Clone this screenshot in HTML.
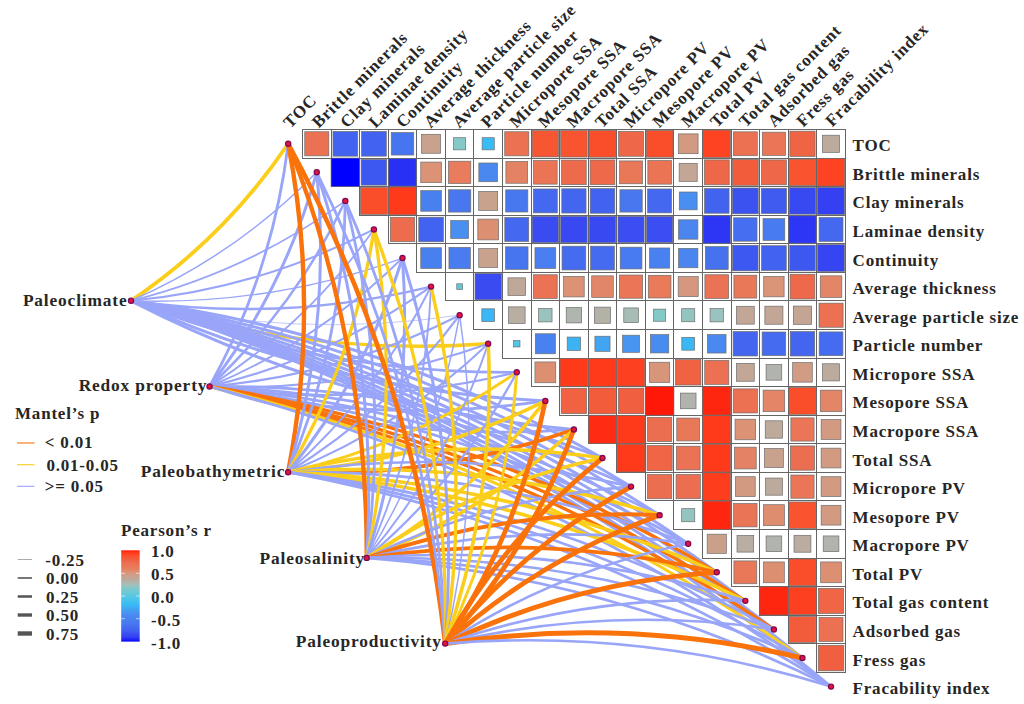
<!DOCTYPE html>
<html><head><meta charset="utf-8"><title>Mantel test</title>
<style>html,body{margin:0;padding:0;background:#fff}svg{display:block}</style></head>
<body>
<svg width="1024" height="704" viewBox="0 0 1024 704">
<rect width="1024" height="704" fill="#fff"/>
<g stroke="#666" stroke-width="1" fill="#fff" shape-rendering="crispEdges">
<rect x="302.50" y="129.50" width="28.57" height="28.57"/>
<rect x="331.07" y="129.50" width="28.57" height="28.57"/>
<rect x="359.64" y="129.50" width="28.57" height="28.57"/>
<rect x="388.21" y="129.50" width="28.57" height="28.57"/>
<rect x="416.78" y="129.50" width="28.57" height="28.57"/>
<rect x="445.35" y="129.50" width="28.57" height="28.57"/>
<rect x="473.92" y="129.50" width="28.57" height="28.57"/>
<rect x="502.49" y="129.50" width="28.57" height="28.57"/>
<rect x="531.06" y="129.50" width="28.57" height="28.57"/>
<rect x="559.63" y="129.50" width="28.57" height="28.57"/>
<rect x="588.20" y="129.50" width="28.57" height="28.57"/>
<rect x="616.77" y="129.50" width="28.57" height="28.57"/>
<rect x="645.34" y="129.50" width="28.57" height="28.57"/>
<rect x="673.91" y="129.50" width="28.57" height="28.57"/>
<rect x="702.48" y="129.50" width="28.57" height="28.57"/>
<rect x="731.05" y="129.50" width="28.57" height="28.57"/>
<rect x="759.62" y="129.50" width="28.57" height="28.57"/>
<rect x="788.19" y="129.50" width="28.57" height="28.57"/>
<rect x="816.76" y="129.50" width="28.57" height="28.57"/>
<rect x="331.07" y="158.07" width="28.57" height="28.57"/>
<rect x="359.64" y="158.07" width="28.57" height="28.57"/>
<rect x="388.21" y="158.07" width="28.57" height="28.57"/>
<rect x="416.78" y="158.07" width="28.57" height="28.57"/>
<rect x="445.35" y="158.07" width="28.57" height="28.57"/>
<rect x="473.92" y="158.07" width="28.57" height="28.57"/>
<rect x="502.49" y="158.07" width="28.57" height="28.57"/>
<rect x="531.06" y="158.07" width="28.57" height="28.57"/>
<rect x="559.63" y="158.07" width="28.57" height="28.57"/>
<rect x="588.20" y="158.07" width="28.57" height="28.57"/>
<rect x="616.77" y="158.07" width="28.57" height="28.57"/>
<rect x="645.34" y="158.07" width="28.57" height="28.57"/>
<rect x="673.91" y="158.07" width="28.57" height="28.57"/>
<rect x="702.48" y="158.07" width="28.57" height="28.57"/>
<rect x="731.05" y="158.07" width="28.57" height="28.57"/>
<rect x="759.62" y="158.07" width="28.57" height="28.57"/>
<rect x="788.19" y="158.07" width="28.57" height="28.57"/>
<rect x="816.76" y="158.07" width="28.57" height="28.57"/>
<rect x="359.64" y="186.64" width="28.57" height="28.57"/>
<rect x="388.21" y="186.64" width="28.57" height="28.57"/>
<rect x="416.78" y="186.64" width="28.57" height="28.57"/>
<rect x="445.35" y="186.64" width="28.57" height="28.57"/>
<rect x="473.92" y="186.64" width="28.57" height="28.57"/>
<rect x="502.49" y="186.64" width="28.57" height="28.57"/>
<rect x="531.06" y="186.64" width="28.57" height="28.57"/>
<rect x="559.63" y="186.64" width="28.57" height="28.57"/>
<rect x="588.20" y="186.64" width="28.57" height="28.57"/>
<rect x="616.77" y="186.64" width="28.57" height="28.57"/>
<rect x="645.34" y="186.64" width="28.57" height="28.57"/>
<rect x="673.91" y="186.64" width="28.57" height="28.57"/>
<rect x="702.48" y="186.64" width="28.57" height="28.57"/>
<rect x="731.05" y="186.64" width="28.57" height="28.57"/>
<rect x="759.62" y="186.64" width="28.57" height="28.57"/>
<rect x="788.19" y="186.64" width="28.57" height="28.57"/>
<rect x="816.76" y="186.64" width="28.57" height="28.57"/>
<rect x="388.21" y="215.21" width="28.57" height="28.57"/>
<rect x="416.78" y="215.21" width="28.57" height="28.57"/>
<rect x="445.35" y="215.21" width="28.57" height="28.57"/>
<rect x="473.92" y="215.21" width="28.57" height="28.57"/>
<rect x="502.49" y="215.21" width="28.57" height="28.57"/>
<rect x="531.06" y="215.21" width="28.57" height="28.57"/>
<rect x="559.63" y="215.21" width="28.57" height="28.57"/>
<rect x="588.20" y="215.21" width="28.57" height="28.57"/>
<rect x="616.77" y="215.21" width="28.57" height="28.57"/>
<rect x="645.34" y="215.21" width="28.57" height="28.57"/>
<rect x="673.91" y="215.21" width="28.57" height="28.57"/>
<rect x="702.48" y="215.21" width="28.57" height="28.57"/>
<rect x="731.05" y="215.21" width="28.57" height="28.57"/>
<rect x="759.62" y="215.21" width="28.57" height="28.57"/>
<rect x="788.19" y="215.21" width="28.57" height="28.57"/>
<rect x="816.76" y="215.21" width="28.57" height="28.57"/>
<rect x="416.78" y="243.78" width="28.57" height="28.57"/>
<rect x="445.35" y="243.78" width="28.57" height="28.57"/>
<rect x="473.92" y="243.78" width="28.57" height="28.57"/>
<rect x="502.49" y="243.78" width="28.57" height="28.57"/>
<rect x="531.06" y="243.78" width="28.57" height="28.57"/>
<rect x="559.63" y="243.78" width="28.57" height="28.57"/>
<rect x="588.20" y="243.78" width="28.57" height="28.57"/>
<rect x="616.77" y="243.78" width="28.57" height="28.57"/>
<rect x="645.34" y="243.78" width="28.57" height="28.57"/>
<rect x="673.91" y="243.78" width="28.57" height="28.57"/>
<rect x="702.48" y="243.78" width="28.57" height="28.57"/>
<rect x="731.05" y="243.78" width="28.57" height="28.57"/>
<rect x="759.62" y="243.78" width="28.57" height="28.57"/>
<rect x="788.19" y="243.78" width="28.57" height="28.57"/>
<rect x="816.76" y="243.78" width="28.57" height="28.57"/>
<rect x="445.35" y="272.35" width="28.57" height="28.57"/>
<rect x="473.92" y="272.35" width="28.57" height="28.57"/>
<rect x="502.49" y="272.35" width="28.57" height="28.57"/>
<rect x="531.06" y="272.35" width="28.57" height="28.57"/>
<rect x="559.63" y="272.35" width="28.57" height="28.57"/>
<rect x="588.20" y="272.35" width="28.57" height="28.57"/>
<rect x="616.77" y="272.35" width="28.57" height="28.57"/>
<rect x="645.34" y="272.35" width="28.57" height="28.57"/>
<rect x="673.91" y="272.35" width="28.57" height="28.57"/>
<rect x="702.48" y="272.35" width="28.57" height="28.57"/>
<rect x="731.05" y="272.35" width="28.57" height="28.57"/>
<rect x="759.62" y="272.35" width="28.57" height="28.57"/>
<rect x="788.19" y="272.35" width="28.57" height="28.57"/>
<rect x="816.76" y="272.35" width="28.57" height="28.57"/>
<rect x="473.92" y="300.92" width="28.57" height="28.57"/>
<rect x="502.49" y="300.92" width="28.57" height="28.57"/>
<rect x="531.06" y="300.92" width="28.57" height="28.57"/>
<rect x="559.63" y="300.92" width="28.57" height="28.57"/>
<rect x="588.20" y="300.92" width="28.57" height="28.57"/>
<rect x="616.77" y="300.92" width="28.57" height="28.57"/>
<rect x="645.34" y="300.92" width="28.57" height="28.57"/>
<rect x="673.91" y="300.92" width="28.57" height="28.57"/>
<rect x="702.48" y="300.92" width="28.57" height="28.57"/>
<rect x="731.05" y="300.92" width="28.57" height="28.57"/>
<rect x="759.62" y="300.92" width="28.57" height="28.57"/>
<rect x="788.19" y="300.92" width="28.57" height="28.57"/>
<rect x="816.76" y="300.92" width="28.57" height="28.57"/>
<rect x="502.49" y="329.49" width="28.57" height="28.57"/>
<rect x="531.06" y="329.49" width="28.57" height="28.57"/>
<rect x="559.63" y="329.49" width="28.57" height="28.57"/>
<rect x="588.20" y="329.49" width="28.57" height="28.57"/>
<rect x="616.77" y="329.49" width="28.57" height="28.57"/>
<rect x="645.34" y="329.49" width="28.57" height="28.57"/>
<rect x="673.91" y="329.49" width="28.57" height="28.57"/>
<rect x="702.48" y="329.49" width="28.57" height="28.57"/>
<rect x="731.05" y="329.49" width="28.57" height="28.57"/>
<rect x="759.62" y="329.49" width="28.57" height="28.57"/>
<rect x="788.19" y="329.49" width="28.57" height="28.57"/>
<rect x="816.76" y="329.49" width="28.57" height="28.57"/>
<rect x="531.06" y="358.06" width="28.57" height="28.57"/>
<rect x="559.63" y="358.06" width="28.57" height="28.57"/>
<rect x="588.20" y="358.06" width="28.57" height="28.57"/>
<rect x="616.77" y="358.06" width="28.57" height="28.57"/>
<rect x="645.34" y="358.06" width="28.57" height="28.57"/>
<rect x="673.91" y="358.06" width="28.57" height="28.57"/>
<rect x="702.48" y="358.06" width="28.57" height="28.57"/>
<rect x="731.05" y="358.06" width="28.57" height="28.57"/>
<rect x="759.62" y="358.06" width="28.57" height="28.57"/>
<rect x="788.19" y="358.06" width="28.57" height="28.57"/>
<rect x="816.76" y="358.06" width="28.57" height="28.57"/>
<rect x="559.63" y="386.63" width="28.57" height="28.57"/>
<rect x="588.20" y="386.63" width="28.57" height="28.57"/>
<rect x="616.77" y="386.63" width="28.57" height="28.57"/>
<rect x="645.34" y="386.63" width="28.57" height="28.57"/>
<rect x="673.91" y="386.63" width="28.57" height="28.57"/>
<rect x="702.48" y="386.63" width="28.57" height="28.57"/>
<rect x="731.05" y="386.63" width="28.57" height="28.57"/>
<rect x="759.62" y="386.63" width="28.57" height="28.57"/>
<rect x="788.19" y="386.63" width="28.57" height="28.57"/>
<rect x="816.76" y="386.63" width="28.57" height="28.57"/>
<rect x="588.20" y="415.20" width="28.57" height="28.57"/>
<rect x="616.77" y="415.20" width="28.57" height="28.57"/>
<rect x="645.34" y="415.20" width="28.57" height="28.57"/>
<rect x="673.91" y="415.20" width="28.57" height="28.57"/>
<rect x="702.48" y="415.20" width="28.57" height="28.57"/>
<rect x="731.05" y="415.20" width="28.57" height="28.57"/>
<rect x="759.62" y="415.20" width="28.57" height="28.57"/>
<rect x="788.19" y="415.20" width="28.57" height="28.57"/>
<rect x="816.76" y="415.20" width="28.57" height="28.57"/>
<rect x="616.77" y="443.77" width="28.57" height="28.57"/>
<rect x="645.34" y="443.77" width="28.57" height="28.57"/>
<rect x="673.91" y="443.77" width="28.57" height="28.57"/>
<rect x="702.48" y="443.77" width="28.57" height="28.57"/>
<rect x="731.05" y="443.77" width="28.57" height="28.57"/>
<rect x="759.62" y="443.77" width="28.57" height="28.57"/>
<rect x="788.19" y="443.77" width="28.57" height="28.57"/>
<rect x="816.76" y="443.77" width="28.57" height="28.57"/>
<rect x="645.34" y="472.34" width="28.57" height="28.57"/>
<rect x="673.91" y="472.34" width="28.57" height="28.57"/>
<rect x="702.48" y="472.34" width="28.57" height="28.57"/>
<rect x="731.05" y="472.34" width="28.57" height="28.57"/>
<rect x="759.62" y="472.34" width="28.57" height="28.57"/>
<rect x="788.19" y="472.34" width="28.57" height="28.57"/>
<rect x="816.76" y="472.34" width="28.57" height="28.57"/>
<rect x="673.91" y="500.91" width="28.57" height="28.57"/>
<rect x="702.48" y="500.91" width="28.57" height="28.57"/>
<rect x="731.05" y="500.91" width="28.57" height="28.57"/>
<rect x="759.62" y="500.91" width="28.57" height="28.57"/>
<rect x="788.19" y="500.91" width="28.57" height="28.57"/>
<rect x="816.76" y="500.91" width="28.57" height="28.57"/>
<rect x="702.48" y="529.48" width="28.57" height="28.57"/>
<rect x="731.05" y="529.48" width="28.57" height="28.57"/>
<rect x="759.62" y="529.48" width="28.57" height="28.57"/>
<rect x="788.19" y="529.48" width="28.57" height="28.57"/>
<rect x="816.76" y="529.48" width="28.57" height="28.57"/>
<rect x="731.05" y="558.05" width="28.57" height="28.57"/>
<rect x="759.62" y="558.05" width="28.57" height="28.57"/>
<rect x="788.19" y="558.05" width="28.57" height="28.57"/>
<rect x="816.76" y="558.05" width="28.57" height="28.57"/>
<rect x="759.62" y="586.62" width="28.57" height="28.57"/>
<rect x="788.19" y="586.62" width="28.57" height="28.57"/>
<rect x="816.76" y="586.62" width="28.57" height="28.57"/>
<rect x="788.19" y="615.19" width="28.57" height="28.57"/>
<rect x="816.76" y="615.19" width="28.57" height="28.57"/>
<rect x="816.76" y="643.76" width="28.57" height="28.57"/>
</g>
<g stroke="#6e6e6e" stroke-width="0.7">
<rect x="304.75" y="131.75" width="24.07" height="24.07" fill="#ec7052"/>
<rect x="332.98" y="131.41" width="24.74" height="24.74" fill="#4262f0"/>
<rect x="361.55" y="131.41" width="24.74" height="24.74" fill="#4262f0"/>
<rect x="391.25" y="132.54" width="22.50" height="22.50" fill="#4775f0"/>
<rect x="421.59" y="134.31" width="18.95" height="18.95" fill="#c9a28e"/>
<rect x="453.57" y="137.72" width="12.12" height="12.12" fill="#84c8c8"/>
<rect x="482.14" y="137.72" width="12.12" height="12.12" fill="#38bcf5"/>
<rect x="504.74" y="131.75" width="24.07" height="24.07" fill="#ec7052"/>
<rect x="532.17" y="130.61" width="26.34" height="26.34" fill="#f75633"/>
<rect x="560.67" y="130.54" width="26.49" height="26.49" fill="#f85430"/>
<rect x="589.08" y="130.38" width="26.80" height="26.80" fill="#fa4e2b"/>
<rect x="618.60" y="131.33" width="24.91" height="24.91" fill="#ee6748"/>
<rect x="646.22" y="130.38" width="26.80" height="26.80" fill="#fa4e2b"/>
<rect x="678.30" y="133.89" width="19.79" height="19.79" fill="#d29a81"/>
<rect x="703.06" y="130.08" width="27.40" height="27.40" fill="#fd4321"/>
<rect x="733.38" y="131.83" width="23.90" height="23.90" fill="#ec7153"/>
<rect x="762.30" y="132.18" width="23.21" height="23.21" fill="#ea7657"/>
<rect x="789.86" y="131.17" width="25.23" height="25.23" fill="#ef6444"/>
<rect x="822.47" y="135.21" width="17.14" height="17.14" fill="#bcab9d"/>
<rect x="331.07" y="158.07" width="28.57" height="28.57" fill="#0000ff"/>
<rect x="361.15" y="159.58" width="25.55" height="25.55" fill="#3d57f1"/>
<rect x="388.72" y="158.58" width="27.55" height="27.55" fill="#2930f6"/>
<rect x="420.76" y="162.05" width="20.60" height="20.60" fill="#dc9274"/>
<rect x="448.48" y="161.20" width="22.31" height="22.31" fill="#e87c5c"/>
<rect x="478.84" y="162.99" width="18.73" height="18.73" fill="#4a88f0"/>
<rect x="505.90" y="161.48" width="21.76" height="21.76" fill="#e48364"/>
<rect x="533.57" y="160.58" width="23.56" height="23.56" fill="#eb7455"/>
<rect x="561.63" y="160.07" width="24.58" height="24.58" fill="#ed6b4c"/>
<rect x="590.11" y="159.98" width="24.74" height="24.74" fill="#ee694a"/>
<rect x="619.63" y="160.93" width="22.86" height="22.86" fill="#e97859"/>
<rect x="647.85" y="160.58" width="23.56" height="23.56" fill="#eb7455"/>
<rect x="679.16" y="163.32" width="18.07" height="18.07" fill="#c3a695"/>
<rect x="704.31" y="159.90" width="24.91" height="24.91" fill="#ee6748"/>
<rect x="732.40" y="159.42" width="25.87" height="25.87" fill="#f35c3b"/>
<rect x="761.45" y="159.90" width="24.91" height="24.91" fill="#ee6748"/>
<rect x="789.23" y="159.11" width="26.49" height="26.49" fill="#f85430"/>
<rect x="817.34" y="158.65" width="27.40" height="27.40" fill="#fd4321"/>
<rect x="360.52" y="187.52" width="26.80" height="26.80" fill="#fa4e2b"/>
<rect x="388.57" y="187.00" width="27.85" height="27.85" fill="#ff3a1a"/>
<rect x="420.76" y="190.62" width="20.60" height="20.60" fill="#4980f0"/>
<rect x="448.48" y="189.77" width="22.31" height="22.31" fill="#4877f0"/>
<rect x="478.73" y="191.45" width="18.95" height="18.95" fill="#c9a28e"/>
<rect x="505.71" y="189.86" width="22.13" height="22.13" fill="#4878f0"/>
<rect x="533.39" y="188.97" width="23.90" height="23.90" fill="#4469f0"/>
<rect x="561.79" y="188.80" width="24.24" height="24.24" fill="#4366f0"/>
<rect x="590.20" y="188.64" width="24.58" height="24.58" fill="#4263f0"/>
<rect x="619.90" y="189.77" width="22.31" height="22.31" fill="#4877f0"/>
<rect x="647.67" y="188.97" width="23.90" height="23.90" fill="#4469f0"/>
<rect x="679.27" y="192.00" width="17.84" height="17.84" fill="#488ff1"/>
<rect x="704.48" y="188.64" width="24.58" height="24.58" fill="#4263f0"/>
<rect x="732.40" y="187.99" width="25.87" height="25.87" fill="#3b52f1"/>
<rect x="761.29" y="188.31" width="25.23" height="25.23" fill="#3f5bf0"/>
<rect x="789.23" y="187.68" width="26.49" height="26.49" fill="#3849f1"/>
<rect x="817.49" y="187.37" width="27.10" height="27.10" fill="#3440f2"/>
<rect x="390.29" y="217.29" width="24.41" height="24.41" fill="#ed6c4e"/>
<rect x="418.78" y="217.21" width="24.58" height="24.58" fill="#4263f0"/>
<rect x="450.71" y="220.57" width="17.84" height="17.84" fill="#488ff1"/>
<rect x="477.81" y="219.10" width="20.80" height="20.80" fill="#dd9071"/>
<rect x="504.82" y="217.54" width="23.90" height="23.90" fill="#4469f0"/>
<rect x="532.17" y="216.32" width="26.34" height="26.34" fill="#394bf1"/>
<rect x="560.67" y="216.25" width="26.49" height="26.49" fill="#3849f1"/>
<rect x="589.24" y="216.25" width="26.49" height="26.49" fill="#3849f1"/>
<rect x="617.96" y="216.40" width="26.18" height="26.18" fill="#3a4ef1"/>
<rect x="646.53" y="216.40" width="26.18" height="26.18" fill="#3a4ef1"/>
<rect x="678.51" y="219.81" width="19.38" height="19.38" fill="#4a85f0"/>
<rect x="703.06" y="215.79" width="27.40" height="27.40" fill="#2d36f4"/>
<rect x="733.64" y="217.80" width="23.39" height="23.39" fill="#456ef0"/>
<rect x="763.03" y="218.62" width="21.76" height="21.76" fill="#487af0"/>
<rect x="788.77" y="215.79" width="27.40" height="27.40" fill="#2d36f4"/>
<rect x="819.09" y="217.54" width="23.90" height="23.90" fill="#4469f0"/>
<rect x="420.76" y="247.76" width="20.60" height="20.60" fill="#4980f0"/>
<rect x="448.95" y="247.38" width="21.38" height="21.38" fill="#487cf0"/>
<rect x="478.73" y="248.59" width="18.95" height="18.95" fill="#c9a28e"/>
<rect x="505.53" y="246.82" width="22.50" height="22.50" fill="#4775f0"/>
<rect x="534.95" y="247.67" width="20.80" height="20.80" fill="#497ff0"/>
<rect x="562.05" y="246.20" width="23.73" height="23.73" fill="#446bf0"/>
<rect x="590.62" y="246.20" width="23.73" height="23.73" fill="#446bf0"/>
<rect x="620.18" y="247.19" width="21.76" height="21.76" fill="#487af0"/>
<rect x="649.52" y="247.96" width="20.20" height="20.20" fill="#4981f0"/>
<rect x="678.51" y="248.38" width="19.38" height="19.38" fill="#4a85f0"/>
<rect x="705.34" y="246.64" width="22.86" height="22.86" fill="#4672f0"/>
<rect x="732.56" y="245.29" width="25.55" height="25.55" fill="#3d57f1"/>
<rect x="761.53" y="245.69" width="24.74" height="24.74" fill="#4262f0"/>
<rect x="789.70" y="245.29" width="25.55" height="25.55" fill="#3d57f1"/>
<rect x="817.64" y="244.66" width="26.80" height="26.80" fill="#3645f2"/>
<rect x="456.78" y="283.78" width="5.71" height="5.71" fill="#62c8dc"/>
<rect x="475.03" y="273.46" width="26.34" height="26.34" fill="#394bf1"/>
<rect x="507.97" y="277.83" width="17.61" height="17.61" fill="#c0a898"/>
<rect x="533.48" y="274.77" width="23.73" height="23.73" fill="#eb7254"/>
<rect x="563.61" y="276.33" width="20.60" height="20.60" fill="#dc9274"/>
<rect x="591.70" y="275.85" width="21.57" height="21.57" fill="#e38667"/>
<rect x="619.45" y="275.03" width="23.21" height="23.21" fill="#ea7657"/>
<rect x="648.29" y="275.30" width="22.68" height="22.68" fill="#e97a5a"/>
<rect x="678.20" y="276.64" width="20.00" height="20.00" fill="#d5987e"/>
<rect x="704.90" y="274.77" width="23.73" height="23.73" fill="#eb7254"/>
<rect x="733.91" y="275.21" width="22.86" height="22.86" fill="#e97859"/>
<rect x="763.70" y="276.43" width="20.40" height="20.40" fill="#da9477"/>
<rect x="790.10" y="274.26" width="24.74" height="24.74" fill="#ee694a"/>
<rect x="820.26" y="275.85" width="21.57" height="21.57" fill="#e38667"/>
<rect x="481.82" y="308.82" width="12.78" height="12.78" fill="#3ab7f4"/>
<rect x="508.45" y="306.88" width="16.66" height="16.66" fill="#b8aea2"/>
<rect x="538.64" y="308.50" width="13.40" height="13.40" fill="#9ac2be"/>
<rect x="566.22" y="307.51" width="15.39" height="15.39" fill="#aeb6ae"/>
<rect x="594.40" y="307.12" width="16.16" height="16.16" fill="#b4b1a7"/>
<rect x="623.77" y="307.92" width="14.57" height="14.57" fill="#a8bcb6"/>
<rect x="653.56" y="309.14" width="12.12" height="12.12" fill="#84c8c8"/>
<rect x="681.65" y="308.66" width="13.09" height="13.09" fill="#94c4c0"/>
<rect x="710.06" y="308.50" width="13.40" height="13.40" fill="#9ac2be"/>
<rect x="736.41" y="306.28" width="17.84" height="17.84" fill="#c2a796"/>
<rect x="764.87" y="306.17" width="18.07" height="18.07" fill="#c3a695"/>
<rect x="793.33" y="306.06" width="18.29" height="18.29" fill="#c4a593"/>
<rect x="819.01" y="303.17" width="24.07" height="24.07" fill="#ec7052"/>
<rect x="513.58" y="340.58" width="6.39" height="6.39" fill="#4fc5e7"/>
<rect x="535.35" y="333.78" width="20.00" height="20.00" fill="#4982f0"/>
<rect x="567.21" y="337.07" width="13.40" height="13.40" fill="#3cb3f4"/>
<rect x="594.93" y="336.22" width="15.12" height="15.12" fill="#42a5f2"/>
<rect x="622.48" y="335.20" width="17.14" height="17.14" fill="#4795f1"/>
<rect x="650.48" y="334.63" width="18.29" height="18.29" fill="#498cf0"/>
<rect x="681.81" y="337.39" width="12.78" height="12.78" fill="#3ab7f4"/>
<rect x="707.51" y="334.52" width="18.52" height="18.52" fill="#4a8af0"/>
<rect x="733.13" y="331.57" width="24.41" height="24.41" fill="#4365f0"/>
<rect x="762.13" y="332.00" width="23.56" height="23.56" fill="#456cf0"/>
<rect x="790.27" y="331.57" width="24.41" height="24.41" fill="#4365f0"/>
<rect x="819.18" y="331.91" width="23.73" height="23.73" fill="#446bf0"/>
<rect x="534.95" y="361.95" width="20.80" height="20.80" fill="#dd9071"/>
<rect x="559.99" y="358.42" width="27.85" height="27.85" fill="#ff3a1a"/>
<rect x="588.56" y="358.42" width="27.85" height="27.85" fill="#ff3a1a"/>
<rect x="617.28" y="358.57" width="27.55" height="27.55" fill="#fd401f"/>
<rect x="649.52" y="362.24" width="20.20" height="20.20" fill="#d7967a"/>
<rect x="675.50" y="359.65" width="25.39" height="25.39" fill="#f06242"/>
<rect x="704.73" y="360.31" width="24.07" height="24.07" fill="#ec7052"/>
<rect x="736.41" y="363.42" width="17.84" height="17.84" fill="#c2a796"/>
<rect x="766.08" y="364.52" width="15.65" height="15.65" fill="#b0b4ac"/>
<rect x="792.68" y="362.55" width="19.59" height="19.59" fill="#d09c84"/>
<rect x="822.47" y="363.77" width="17.14" height="17.14" fill="#bcab9d"/>
<rect x="561.22" y="388.22" width="25.39" height="25.39" fill="#f06242"/>
<rect x="589.55" y="387.98" width="25.87" height="25.87" fill="#f35c3b"/>
<rect x="618.28" y="388.14" width="25.55" height="25.55" fill="#f06040"/>
<rect x="645.34" y="386.63" width="28.57" height="28.57" fill="#ff1808"/>
<rect x="680.37" y="393.09" width="15.65" height="15.65" fill="#b0b4ac"/>
<rect x="702.62" y="386.77" width="28.28" height="28.28" fill="#ff260f"/>
<rect x="733.30" y="388.88" width="24.07" height="24.07" fill="#ec7052"/>
<rect x="763.12" y="390.13" width="21.57" height="21.57" fill="#e38667"/>
<rect x="789.07" y="387.51" width="26.80" height="26.80" fill="#fa4e2b"/>
<rect x="820.26" y="390.13" width="21.57" height="21.57" fill="#e38667"/>
<rect x="588.42" y="415.42" width="28.14" height="28.14" fill="#ff2c13"/>
<rect x="617.13" y="415.56" width="27.85" height="27.85" fill="#ff3a1a"/>
<rect x="647.50" y="417.36" width="24.24" height="24.24" fill="#ec6e50"/>
<rect x="676.77" y="418.06" width="22.86" height="22.86" fill="#e97859"/>
<rect x="702.84" y="415.56" width="27.85" height="27.85" fill="#ff3a1a"/>
<rect x="735.03" y="419.18" width="20.60" height="20.60" fill="#dc9274"/>
<rect x="765.22" y="420.80" width="17.38" height="17.38" fill="#beaa9a"/>
<rect x="790.87" y="417.88" width="23.21" height="23.21" fill="#ea7657"/>
<rect x="821.15" y="419.59" width="19.79" height="19.79" fill="#d29a81"/>
<rect x="617.13" y="444.13" width="27.85" height="27.85" fill="#ff3a1a"/>
<rect x="647.09" y="445.52" width="25.07" height="25.07" fill="#ef6546"/>
<rect x="676.33" y="446.19" width="23.73" height="23.73" fill="#eb7254"/>
<rect x="702.84" y="444.13" width="27.85" height="27.85" fill="#ff3a1a"/>
<rect x="734.46" y="447.18" width="21.76" height="21.76" fill="#e48364"/>
<rect x="764.43" y="448.58" width="18.95" height="18.95" fill="#c9a28e"/>
<rect x="790.35" y="445.93" width="24.24" height="24.24" fill="#ec6e50"/>
<rect x="821.15" y="448.16" width="19.79" height="19.79" fill="#d29a81"/>
<rect x="647.50" y="474.50" width="24.24" height="24.24" fill="#ec6e50"/>
<rect x="676.07" y="474.50" width="24.24" height="24.24" fill="#ec6e50"/>
<rect x="702.92" y="472.78" width="27.70" height="27.70" fill="#fe3d1c"/>
<rect x="735.44" y="476.73" width="19.79" height="19.79" fill="#d29a81"/>
<rect x="765.33" y="478.05" width="17.14" height="17.14" fill="#bcab9d"/>
<rect x="790.87" y="475.02" width="23.21" height="23.21" fill="#ea7657"/>
<rect x="821.15" y="476.73" width="19.79" height="19.79" fill="#d29a81"/>
<rect x="681.65" y="508.65" width="13.09" height="13.09" fill="#94c4c0"/>
<rect x="702.62" y="501.05" width="28.28" height="28.28" fill="#ff260f"/>
<rect x="733.64" y="503.50" width="23.39" height="23.39" fill="#ea7556"/>
<rect x="763.41" y="504.70" width="20.99" height="20.99" fill="#df8d6f"/>
<rect x="789.23" y="501.95" width="26.49" height="26.49" fill="#f85430"/>
<rect x="821.15" y="505.30" width="19.79" height="19.79" fill="#d29a81"/>
<rect x="707.18" y="534.18" width="19.17" height="19.17" fill="#cba08b"/>
<rect x="737.01" y="535.44" width="16.66" height="16.66" fill="#b8aea2"/>
<rect x="766.08" y="535.94" width="15.65" height="15.65" fill="#b0b4ac"/>
<rect x="794.02" y="535.31" width="16.90" height="16.90" fill="#baaca0"/>
<rect x="823.22" y="535.94" width="15.65" height="15.65" fill="#b0b4ac"/>
<rect x="733.91" y="560.91" width="22.86" height="22.86" fill="#e97859"/>
<rect x="763.51" y="561.94" width="20.80" height="20.80" fill="#dd9071"/>
<rect x="789.07" y="558.93" width="26.80" height="26.80" fill="#fa4e2b"/>
<rect x="820.65" y="561.94" width="20.80" height="20.80" fill="#dd9071"/>
<rect x="759.76" y="586.76" width="28.28" height="28.28" fill="#ff260f"/>
<rect x="788.70" y="587.13" width="27.55" height="27.55" fill="#fd401f"/>
<rect x="818.51" y="588.37" width="25.07" height="25.07" fill="#ef6546"/>
<rect x="789.54" y="616.54" width="25.87" height="25.87" fill="#f35c3b"/>
<rect x="819.09" y="617.52" width="23.90" height="23.90" fill="#ec7153"/>
<rect x="818.27" y="645.27" width="25.55" height="25.55" fill="#f06040"/>
</g>
<g fill="none" stroke-linecap="butt">
<path d="M131.00 300.80A584.0 584.0 0 0 0 288.20 143.75" stroke="#face1a" stroke-width="3.8"/>
<path d="M131.00 300.80A593.6 593.6 0 0 0 316.77 172.32" stroke="#99a5f8" stroke-width="1.5"/>
<path d="M131.00 300.80A621.5 621.5 0 0 0 345.34 200.89" stroke="#99a5f8" stroke-width="1.8"/>
<path d="M131.00 300.80A665.4 665.4 0 0 0 373.91 229.46" stroke="#99a5f8" stroke-width="2.0"/>
<path d="M131.00 300.80A722.3 722.3 0 0 0 402.48 258.03" stroke="#99a5f8" stroke-width="1.3"/>
<path d="M131.00 300.80A789.5 789.5 0 0 0 431.05 286.60" stroke="#99a5f8" stroke-width="2.5"/>
<path d="M131.00 300.80A864.5 864.5 0 0 0 459.62 315.17" stroke="#99a5f8" stroke-width="0.6"/>
<path d="M131.00 300.80A945.5 945.5 0 0 0 488.19 343.74" stroke="#face1a" stroke-width="3.3"/>
<path d="M131.00 300.80A1031.1 1031.1 0 0 0 516.76 372.31" stroke="#99a5f8" stroke-width="2.8"/>
<path d="M131.00 300.80A1120.2 1120.2 0 0 0 545.33 400.88" stroke="#99a5f8" stroke-width="3.0"/>
<path d="M131.00 300.80A1212.1 1212.1 0 0 0 573.90 429.45" stroke="#99a5f8" stroke-width="3.0"/>
<path d="M131.00 300.80A1306.2 1306.2 0 0 1 602.47 458.02" stroke="#99a5f8" stroke-width="3.0"/>
<path d="M131.00 300.80A1402.0 1402.0 0 0 1 631.04 486.59" stroke="#99a5f8" stroke-width="3.0"/>
<path d="M131.00 300.80A1499.2 1499.2 0 0 1 659.61 515.16" stroke="#99a5f8" stroke-width="3.0"/>
<path d="M131.00 300.80A1597.5 1597.5 0 0 1 688.18 543.73" stroke="#99a5f8" stroke-width="3.0"/>
<path d="M131.00 300.80A1696.8 1696.8 0 0 1 716.75 572.30" stroke="#99a5f8" stroke-width="3.0"/>
<path d="M131.00 300.80A1796.8 1796.8 0 0 1 745.32 600.87" stroke="#99a5f8" stroke-width="3.0"/>
<path d="M131.00 300.80A1897.6 1897.6 0 0 1 773.89 629.44" stroke="#99a5f8" stroke-width="3.0"/>
<path d="M131.00 300.80A1998.9 1998.9 0 0 1 802.46 658.01" stroke="#99a5f8" stroke-width="3.0"/>
<path d="M131.00 300.80A2100.7 2100.7 0 0 1 831.03 686.58" stroke="#99a5f8" stroke-width="3.0"/>
<path d="M209.55 386.50A670.6 670.6 0 0 0 288.20 143.75" stroke="#99a5f8" stroke-width="2.8"/>
<path d="M209.55 386.50A629.5 629.5 0 0 0 316.77 172.32" stroke="#99a5f8" stroke-width="3.0"/>
<path d="M209.55 386.50A604.4 604.4 0 0 0 345.34 200.89" stroke="#99a5f8" stroke-width="2.5"/>
<path d="M209.55 386.50A597.4 597.4 0 0 0 373.91 229.46" stroke="#99a5f8" stroke-width="1.8"/>
<path d="M209.55 386.50A609.2 609.2 0 0 0 402.48 258.03" stroke="#99a5f8" stroke-width="1.9"/>
<path d="M209.55 386.50A638.6 638.6 0 0 0 431.05 286.60" stroke="#99a5f8" stroke-width="2.1"/>
<path d="M209.55 386.50A683.4 683.4 0 0 0 459.62 315.17" stroke="#99a5f8" stroke-width="2.3"/>
<path d="M209.55 386.50A740.9 740.9 0 0 0 488.19 343.74" stroke="#99a5f8" stroke-width="2.0"/>
<path d="M209.55 386.50A808.3 808.3 0 0 0 516.76 372.31" stroke="#99a5f8" stroke-width="2.3"/>
<path d="M209.55 386.50A883.3 883.3 0 0 0 545.33 400.88" stroke="#99a5f8" stroke-width="2.8"/>
<path d="M209.55 386.50A964.2 964.2 0 0 0 573.90 429.45" stroke="#99a5f8" stroke-width="2.8"/>
<path d="M209.55 386.50A1049.6 1049.6 0 0 1 602.47 458.02" stroke="#99a5f8" stroke-width="2.8"/>
<path d="M209.55 386.50A1138.6 1138.6 0 0 1 631.04 486.59" stroke="#99a5f8" stroke-width="2.8"/>
<path d="M209.55 386.50A1230.2 1230.2 0 0 1 659.61 515.16" stroke="#99a5f8" stroke-width="2.8"/>
<path d="M209.55 386.50A1324.1 1324.1 0 0 1 688.18 543.73" stroke="#99a5f8" stroke-width="2.8"/>
<path d="M209.55 386.50A1419.6 1419.6 0 0 1 716.75 572.30" stroke="#fa720a" stroke-width="3.3"/>
<path d="M209.55 386.50A1516.6 1516.6 0 0 1 745.32 600.87" stroke="#fa720a" stroke-width="3.3"/>
<path d="M209.55 386.50A1614.8 1614.8 0 0 1 773.89 629.44" stroke="#fa720a" stroke-width="3.3"/>
<path d="M209.55 386.50A1713.9 1713.9 0 0 1 802.46 658.01" stroke="#face1a" stroke-width="3.0"/>
<path d="M209.55 386.50A1813.8 1813.8 0 0 1 831.03 686.58" stroke="#99a5f8" stroke-width="2.8"/>
<path d="M288.10 472.20A863.2 863.2 0 0 0 288.20 143.75" stroke="#fa720a" stroke-width="4.4"/>
<path d="M288.10 472.20A791.7 791.7 0 0 0 316.77 172.32" stroke="#99a5f8" stroke-width="3.0"/>
<path d="M288.10 472.20A728.7 728.7 0 0 0 345.34 200.89" stroke="#99a5f8" stroke-width="2.8"/>
<path d="M288.10 472.20A676.6 676.6 0 0 0 373.91 229.46" stroke="#face1a" stroke-width="3.3"/>
<path d="M288.10 472.20A638.1 638.1 0 0 0 402.48 258.03" stroke="#99a5f8" stroke-width="3.0"/>
<path d="M288.10 472.20A615.7 615.7 0 0 0 431.05 286.60" stroke="#99a5f8" stroke-width="2.1"/>
<path d="M288.10 472.20A611.2 611.2 0 0 0 459.62 315.17" stroke="#99a5f8" stroke-width="2.3"/>
<path d="M288.10 472.20A624.9 624.9 0 0 0 488.19 343.74" stroke="#99a5f8" stroke-width="2.0"/>
<path d="M288.10 472.20A655.8 655.8 0 0 0 516.76 372.31" stroke="#face1a" stroke-width="2.9"/>
<path d="M288.10 472.20A701.5 701.5 0 0 0 545.33 400.88" stroke="#face1a" stroke-width="3.6"/>
<path d="M288.10 472.20A759.5 759.5 0 0 0 573.90 429.45" stroke="#fa720a" stroke-width="3.8"/>
<path d="M288.10 472.20A827.1 827.1 0 0 1 602.47 458.02" stroke="#face1a" stroke-width="3.6"/>
<path d="M288.10 472.20A902.1 902.1 0 0 1 631.04 486.59" stroke="#99a5f8" stroke-width="2.7"/>
<path d="M288.10 472.20A982.9 982.9 0 0 1 659.61 515.16" stroke="#face1a" stroke-width="3.6"/>
<path d="M288.10 472.20A1068.2 1068.2 0 0 1 688.18 543.73" stroke="#99a5f8" stroke-width="2.7"/>
<path d="M288.10 472.20A1156.9 1156.9 0 0 1 716.75 572.30" stroke="#face1a" stroke-width="3.6"/>
<path d="M288.10 472.20A1248.3 1248.3 0 0 1 745.32 600.87" stroke="#face1a" stroke-width="3.6"/>
<path d="M288.10 472.20A1342.0 1342.0 0 0 1 773.89 629.44" stroke="#99a5f8" stroke-width="2.7"/>
<path d="M288.10 472.20A1437.3 1437.3 0 0 1 802.46 658.01" stroke="#99a5f8" stroke-width="2.7"/>
<path d="M288.10 472.20A1534.1 1534.1 0 0 1 831.03 686.58" stroke="#99a5f8" stroke-width="2.7"/>
<path d="M366.65 557.90A1107.8 1107.8 0 0 0 288.20 143.75" stroke="#fa720a" stroke-width="4.3"/>
<path d="M366.65 557.90A1021.8 1021.8 0 0 0 316.77 172.32" stroke="#99a5f8" stroke-width="3.0"/>
<path d="M366.65 557.90A940.0 940.0 0 0 0 345.34 200.89" stroke="#99a5f8" stroke-width="2.8"/>
<path d="M366.65 557.90A863.4 863.4 0 0 0 373.91 229.46" stroke="#face1a" stroke-width="3.3"/>
<path d="M366.65 557.90A793.7 793.7 0 0 0 402.48 258.03" stroke="#99a5f8" stroke-width="3.0"/>
<path d="M366.65 557.90A732.8 732.8 0 0 0 431.05 286.60" stroke="#99a5f8" stroke-width="1.9"/>
<path d="M366.65 557.90A683.1 683.1 0 0 0 459.62 315.17" stroke="#99a5f8" stroke-width="1.5"/>
<path d="M366.65 557.90A647.2 647.2 0 0 0 488.19 343.74" stroke="#99a5f8" stroke-width="2.0"/>
<path d="M366.65 557.90A627.3 627.3 0 0 0 516.76 372.31" stroke="#99a5f8" stroke-width="2.3"/>
<path d="M366.65 557.90A625.2 625.2 0 0 0 545.33 400.88" stroke="#face1a" stroke-width="3.6"/>
<path d="M366.65 557.90A640.8 640.8 0 0 0 573.90 429.45" stroke="#face1a" stroke-width="3.6"/>
<path d="M366.65 557.90A673.1 673.1 0 0 1 602.47 458.02" stroke="#face1a" stroke-width="3.6"/>
<path d="M366.65 557.90A719.7 719.7 0 0 1 631.04 486.59" stroke="#99a5f8" stroke-width="2.7"/>
<path d="M366.65 557.90A778.1 778.1 0 0 1 659.61 515.16" stroke="#fa720a" stroke-width="4.0"/>
<path d="M366.65 557.90A845.9 845.9 0 0 1 688.18 543.73" stroke="#99a5f8" stroke-width="2.7"/>
<path d="M366.65 557.90A920.9 920.9 0 0 1 716.75 572.30" stroke="#fa720a" stroke-width="3.6"/>
<path d="M366.65 557.90A1001.6 1001.6 0 0 1 745.32 600.87" stroke="#99a5f8" stroke-width="2.7"/>
<path d="M366.65 557.90A1086.7 1086.7 0 0 1 773.89 629.44" stroke="#99a5f8" stroke-width="2.7"/>
<path d="M366.65 557.90A1175.2 1175.2 0 0 1 802.46 658.01" stroke="#99a5f8" stroke-width="2.7"/>
<path d="M366.65 557.90A1266.5 1266.5 0 0 1 831.03 686.58" stroke="#99a5f8" stroke-width="2.7"/>
<path d="M445.20 643.60A1377.0 1377.0 0 0 0 288.20 143.75" stroke="#fa720a" stroke-width="4.6"/>
<path d="M445.20 643.60A1283.8 1283.8 0 0 0 316.77 172.32" stroke="#99a5f8" stroke-width="2.8"/>
<path d="M445.20 643.60A1192.7 1192.7 0 0 0 345.34 200.89" stroke="#99a5f8" stroke-width="2.8"/>
<path d="M445.20 643.60A1104.4 1104.4 0 0 0 373.91 229.46" stroke="#face1a" stroke-width="3.3"/>
<path d="M445.20 643.60A1019.5 1019.5 0 0 0 402.48 258.03" stroke="#99a5f8" stroke-width="3.0"/>
<path d="M445.20 643.60A939.0 939.0 0 0 0 431.05 286.60" stroke="#face1a" stroke-width="3.4"/>
<path d="M445.20 643.60A864.0 864.0 0 0 0 459.62 315.17" stroke="#99a5f8" stroke-width="1.5"/>
<path d="M445.20 643.60A796.1 796.1 0 0 0 488.19 343.74" stroke="#face1a" stroke-width="3.6"/>
<path d="M445.20 643.60A737.4 737.4 0 0 0 516.76 372.31" stroke="#face1a" stroke-width="2.9"/>
<path d="M445.20 643.60A690.1 690.1 0 0 0 545.33 400.88" stroke="#fa720a" stroke-width="4.8"/>
<path d="M445.20 643.60A656.6 656.6 0 0 0 573.90 429.45" stroke="#fa720a" stroke-width="4.8"/>
<path d="M445.20 643.60A639.3 639.3 0 0 1 602.47 458.02" stroke="#fa720a" stroke-width="4.8"/>
<path d="M445.20 643.60A639.4 639.4 0 0 1 631.04 486.59" stroke="#fa720a" stroke-width="4.8"/>
<path d="M445.20 643.60A656.9 656.9 0 0 1 659.61 515.16" stroke="#fa720a" stroke-width="4.8"/>
<path d="M445.20 643.60A690.4 690.4 0 0 1 688.18 543.73" stroke="#99a5f8" stroke-width="2.6"/>
<path d="M445.20 643.60A737.9 737.9 0 0 1 716.75 572.30" stroke="#fa720a" stroke-width="4.8"/>
<path d="M445.20 643.60A796.7 796.7 0 0 1 745.32 600.87" stroke="#99a5f8" stroke-width="2.6"/>
<path d="M445.20 643.60A864.7 864.7 0 0 1 773.89 629.44" stroke="#99a5f8" stroke-width="2.6"/>
<path d="M445.20 643.60A939.7 939.7 0 0 1 802.46 658.01" stroke="#fa720a" stroke-width="5.0"/>
<path d="M445.20 643.60A1020.3 1020.3 0 0 1 831.03 686.58" stroke="#99a5f8" stroke-width="2.6"/>
</g>
<g fill="#e2143c" stroke="#7a0a55" stroke-width="1.2">
<circle cx="288.20" cy="143.75" r="2.6"/>
<circle cx="316.77" cy="172.32" r="2.6"/>
<circle cx="345.34" cy="200.89" r="2.6"/>
<circle cx="373.91" cy="229.46" r="2.6"/>
<circle cx="402.48" cy="258.03" r="2.6"/>
<circle cx="431.05" cy="286.60" r="2.6"/>
<circle cx="459.62" cy="315.17" r="2.6"/>
<circle cx="488.19" cy="343.74" r="2.6"/>
<circle cx="516.76" cy="372.31" r="2.6"/>
<circle cx="545.33" cy="400.88" r="2.6"/>
<circle cx="573.90" cy="429.45" r="2.6"/>
<circle cx="602.47" cy="458.02" r="2.6"/>
<circle cx="631.04" cy="486.59" r="2.6"/>
<circle cx="659.61" cy="515.16" r="2.6"/>
<circle cx="688.18" cy="543.73" r="2.6"/>
<circle cx="716.75" cy="572.30" r="2.6"/>
<circle cx="745.32" cy="600.87" r="2.6"/>
<circle cx="773.89" cy="629.44" r="2.6"/>
<circle cx="802.46" cy="658.01" r="2.6"/>
<circle cx="831.03" cy="686.58" r="2.6"/>
<circle cx="131.00" cy="300.80" r="2.6"/>
<circle cx="209.55" cy="386.50" r="2.6"/>
<circle cx="288.10" cy="472.20" r="2.6"/>
<circle cx="366.65" cy="557.90" r="2.6"/>
<circle cx="445.20" cy="643.60" r="2.6"/>
</g>
<g font-family="'Liberation Serif', serif" font-weight="bold" font-size="17px" fill="#262626" letter-spacing="0.8">
<text x="852.6" y="151.30">TOC</text>
<text x="852.6" y="179.87">Brittle minerals</text>
<text x="852.6" y="208.44">Clay minerals</text>
<text x="852.6" y="237.01">Laminae density</text>
<text x="852.6" y="265.58">Continuity</text>
<text x="852.6" y="294.15">Average thickness</text>
<text x="852.6" y="322.72">Average particle size</text>
<text x="852.6" y="351.29">Particle number</text>
<text x="852.6" y="379.86">Micropore SSA</text>
<text x="852.6" y="408.43">Mesopore SSA</text>
<text x="852.6" y="437.00">Macropore SSA</text>
<text x="852.6" y="465.57">Total SSA</text>
<text x="852.6" y="494.14">Micropore PV</text>
<text x="852.6" y="522.71">Mesopore PV</text>
<text x="852.6" y="551.28">Macropore PV</text>
<text x="852.6" y="579.85">Total PV</text>
<text x="852.6" y="608.42">Total gas content</text>
<text x="852.6" y="636.99">Adsorbed gas</text>
<text x="852.6" y="665.56">Fress gas</text>
<text x="852.6" y="694.13">Fracability index</text>
<text transform="translate(290.30 128.90) rotate(-45)">TOC</text>
<text transform="translate(318.70 128.86) rotate(-45)">Brittle minerals</text>
<text transform="translate(347.11 128.82) rotate(-45)">Clay minerals</text>
<text transform="translate(375.51 128.78) rotate(-45)">Laminae density</text>
<text transform="translate(403.08 128.74) rotate(-45)">Continuity</text>
<text transform="translate(430.65 128.70) rotate(-45)">Average thickness</text>
<text transform="translate(459.19 128.70) rotate(-45)">Average particle size</text>
<text transform="translate(487.73 128.70) rotate(-45)">Particle number</text>
<text transform="translate(516.27 128.70) rotate(-45)">Micropore SSA</text>
<text transform="translate(544.82 128.70) rotate(-45)">Mesopore SSA</text>
<text transform="translate(573.36 128.70) rotate(-45)">Macropore SSA</text>
<text transform="translate(601.90 128.70) rotate(-45)">Total SSA</text>
<text transform="translate(630.44 128.70) rotate(-45)">Micropore PV</text>
<text transform="translate(659.25 128.53) rotate(-45)">Mesopore PV</text>
<text transform="translate(688.07 128.36) rotate(-45)">Macropore PV</text>
<text transform="translate(716.88 128.19) rotate(-45)">Total PV</text>
<text transform="translate(745.69 128.01) rotate(-45)">Total gas content</text>
<text transform="translate(774.50 127.84) rotate(-45)">Adsorbed gas</text>
<text transform="translate(803.32 127.67) rotate(-45)">Fress gas</text>
<text transform="translate(832.13 127.50) rotate(-45)">Fracability index</text>
<text x="127.50" y="305.60" text-anchor="end" font-size="17.35px" letter-spacing="0.85">Paleoclimate</text>
<text x="207.30" y="390.50" text-anchor="end" font-size="17.35px" letter-spacing="0.85">Redox property</text>
<text x="285.30" y="476.60" text-anchor="end" font-size="17.35px" letter-spacing="0.85">Paleobathymetric</text>
<text x="365.10" y="564.40" text-anchor="end" font-size="17.35px" letter-spacing="0.85">Paleosalinity</text>
<text x="441.90" y="647.40" text-anchor="end" font-size="17.35px" letter-spacing="0.85">Paleoproductivity</text>
<text x="15" y="418.8">Mantel&#8217;s p</text>
<text x="44.8" y="448.4">&lt; 0.01</text>
<text x="46.4" y="470.6">0.01-0.05</text>
<text x="44.8" y="492.2">&gt;= 0.05</text>
<text x="121" y="535.8">Pearson&#8217;s r</text>
<text x="151" y="557.2">1.0</text>
<text x="151" y="580.2">0.5</text>
<text x="151" y="603.2">0.0</text>
<text x="151" y="626.2">-0.5</text>
<text x="151" y="649.2">-1.0</text>
<text x="45.3" y="565.5">-0.25</text>
<text x="46.1" y="584.0">0.00</text>
<text x="46.1" y="602.6">0.25</text>
<text x="46.1" y="621.1">0.50</text>
<text x="46.1" y="639.7">0.75</text>
</g>
<g stroke-width="1.1">
<line x1="17" x2="34.5" y1="443" y2="443" stroke="#fa720a"/>
<line x1="17" x2="34.5" y1="464.7" y2="464.7" stroke="#face1a"/>
<line x1="17" x2="34.5" y1="486.3" y2="486.3" stroke="#99a5f8"/>
</g>
<g stroke="#555">
<line x1="17.7" x2="32" y1="559.5" y2="559.5" stroke-width="0.5"/>
<line x1="17.7" x2="32" y1="578.0" y2="578.0" stroke-width="1.6"/>
<line x1="17.7" x2="32" y1="596.5" y2="596.5" stroke-width="2.5"/>
<line x1="17.7" x2="32" y1="615.0" y2="615.0" stroke-width="3.4"/>
<line x1="17.7" x2="32" y1="633.5" y2="633.5" stroke-width="4.4"/>
</g>
<defs><linearGradient id="cb" x1="0" y1="1" x2="0" y2="0">
<stop offset="0.000" stop-color="#0000ff"/>
<stop offset="0.025" stop-color="#2226f8"/>
<stop offset="0.050" stop-color="#3440f2"/>
<stop offset="0.125" stop-color="#4262f0"/>
<stop offset="0.200" stop-color="#4878f0"/>
<stop offset="0.285" stop-color="#4a88f0"/>
<stop offset="0.350" stop-color="#44a0f2"/>
<stop offset="0.410" stop-color="#38bcf5"/>
<stop offset="0.500" stop-color="#58c8e2"/>
<stop offset="0.590" stop-color="#84c8c8"/>
<stop offset="0.610" stop-color="#9ac2be"/>
<stop offset="0.630" stop-color="#a8bcb6"/>
<stop offset="0.650" stop-color="#b0b4ac"/>
<stop offset="0.690" stop-color="#c0a898"/>
<stop offset="0.720" stop-color="#c9a28e"/>
<stop offset="0.760" stop-color="#dc9274"/>
<stop offset="0.805" stop-color="#e87c5c"/>
<stop offset="0.855" stop-color="#ec7052"/>
<stop offset="0.900" stop-color="#f06040"/>
<stop offset="0.930" stop-color="#f85430"/>
<stop offset="0.975" stop-color="#ff3a1a"/>
<stop offset="1.000" stop-color="#ff1808"/>
</linearGradient></defs>
<rect x="121.2" y="550.3" width="18.5" height="91.3" fill="url(#cb)"/>
<g stroke="#fff" stroke-width="0.6">
<line x1="121.2" x2="125" y1="573.3" y2="573.3"/>
<line x1="135.9" x2="139.7" y1="573.3" y2="573.3"/>
<line x1="121.2" x2="125" y1="596.0" y2="596.0"/>
<line x1="135.9" x2="139.7" y1="596.0" y2="596.0"/>
<line x1="121.2" x2="125" y1="618.7" y2="618.7"/>
<line x1="135.9" x2="139.7" y1="618.7" y2="618.7"/>
</g>
</svg>
</body></html>
